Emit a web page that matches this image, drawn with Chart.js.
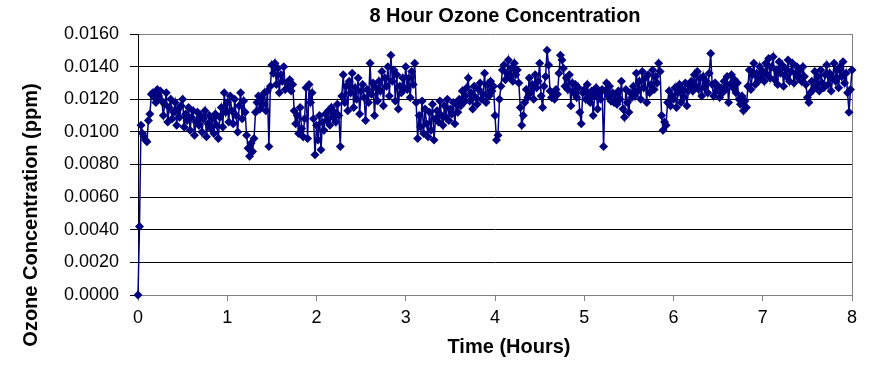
<!DOCTYPE html>
<html>
<head>
<meta charset="utf-8">
<script src="https://cdn.jsdelivr.net/npm/chart.js@4/dist/chart.umd.min.js"></script>
<style>
html,body{margin:0;padding:0;background:#fff;}
#wrap{position:relative;width:876px;height:367px;}
</style>
</head>
<body>
<div id="wrap"><canvas id="c" width="876" height="367"></canvas></div>
<script>
// ---- data ----
const chartTitle = "8 Hour Ozone Concentration";
const xAxisTitle = "Time (Hours)";
const yAxisTitle = "Ozone Concentration (ppm)";
const xTickValues = [0, 1, 2, 3, 4, 5, 6, 7, 8];
const yTickValues = [0.0000, 0.0020, 0.0040, 0.0060, 0.0080, 0.0100, 0.0120, 0.0140, 0.0160];
const sampleIntervalHours = 1 / 60; // one reading per minute

const ozoneHour0 = [
  0.0000, 0.0042, 0.0104, 0.0099, 0.0097, 0.0095, 0.0094, 0.0107, 0.0111,
  0.0123, 0.0124, 0.0121, 0.0118, 0.0126, 0.0122, 0.0125, 0.0119,
  0.0110, 0.0117, 0.0124, 0.0106, 0.0115, 0.0120, 0.0108, 0.0112, 0.0118, 0.0104, 0.0114, 0.0109, 0.0116, 0.0120,
  0.0103, 0.0111, 0.0107, 0.0115, 0.0101, 0.0109, 0.0113, 0.0098, 0.0106, 0.0112, 0.0104, 0.0110, 0.0100, 0.0108, 0.0113,
  0.0097, 0.0105, 0.0110, 0.0102, 0.0108, 0.0099, 0.0111, 0.0104, 0.0096, 0.0109, 0.0115, 0.0103, 0.0124, 0.0112];
const ozoneHour1 = [
  0.0118, 0.0106, 0.0122, 0.0113, 0.0105, 0.0120, 0.0110, 0.0100, 0.0116, 0.0124, 0.0108, 0.0119,
  0.0112, 0.0098, 0.0090, 0.0085, 0.0093, 0.0088, 0.0096, 0.0112,
  0.0118, 0.0122, 0.0114, 0.0121, 0.0117, 0.0124, 0.0113, 0.0125, 0.0091,
  0.0128, 0.0141, 0.0136, 0.0142, 0.0129, 0.0139, 0.0124, 0.0135, 0.0131, 0.0140,
  0.0126, 0.0130, 0.0127, 0.0132, 0.0125, 0.0129,
  0.0113, 0.0105, 0.0110, 0.0099, 0.0115, 0.0102, 0.0097, 0.0108,
  0.0127, 0.0096, 0.0129, 0.0118, 0.0124, 0.0108, 0.0086];
const ozoneHour2 = [
  0.0104, 0.0095, 0.0110, 0.0089, 0.0106, 0.0101, 0.0111,
  0.0107, 0.0113, 0.0104, 0.0115, 0.0109, 0.0112, 0.0106, 0.0117, 0.0110,
  0.0091,
  0.0122, 0.0135, 0.0118, 0.0128, 0.0113, 0.0131, 0.0124, 0.0136, 0.0115, 0.0127, 0.0120, 0.0133, 0.0111, 0.0125,
  0.0129, 0.0121, 0.0107, 0.0126, 0.0118, 0.0142, 0.0123, 0.0130, 0.0110, 0.0127, 0.0119, 0.0131,
  0.0125, 0.0137, 0.0116, 0.0133, 0.0128, 0.0140, 0.0122, 0.0147, 0.0131, 0.0138, 0.0119, 0.0135,
  0.0114, 0.0128, 0.0124, 0.0133, 0.0127];
const ozoneHour3 = [
  0.0140, 0.0126, 0.0133, 0.0121, 0.0137, 0.0129, 0.0142,
  0.0118, 0.0096, 0.0110, 0.0103, 0.0119, 0.0099, 0.0114, 0.0105, 0.0097, 0.0112, 0.0101, 0.0117, 0.0095, 0.0108,
  0.0113, 0.0106, 0.0119, 0.0110, 0.0104, 0.0116, 0.0109, 0.0120, 0.0107, 0.0114, 0.0111, 0.0118, 0.0105, 0.0117, 0.0112,
  0.0120, 0.0116, 0.0125, 0.0118, 0.0122, 0.0127, 0.0133, 0.0119, 0.0124, 0.0114, 0.0128, 0.0121, 0.0117, 0.0126, 0.0130,
  0.0120, 0.0123, 0.0136, 0.0118, 0.0129,
  0.0122, 0.0131, 0.0125, 0.0128];
const ozoneHour4 = [
  0.0110, 0.0095, 0.0098, 0.0120, 0.0128,
  0.0138, 0.0141, 0.0132, 0.0136, 0.0144, 0.0134, 0.0139, 0.0131, 0.0142, 0.0135, 0.0138, 0.0130,
  0.0115, 0.0104, 0.0110, 0.0118,
  0.0126, 0.0121, 0.0133, 0.0124, 0.0129, 0.0120, 0.0135, 0.0127, 0.0131, 0.0142, 0.0122, 0.0115,
  0.0128, 0.0134, 0.0150, 0.0141, 0.0125,
  0.0121, 0.0124, 0.0120, 0.0126, 0.0123,
  0.0136, 0.0147, 0.0144, 0.0139,
  0.0128, 0.0133, 0.0126, 0.0135, 0.0116, 0.0130, 0.0124, 0.0129,
  0.0121, 0.0127, 0.0112, 0.0105, 0.0124];
const ozoneHour5 = [
  0.0126, 0.0120, 0.0129, 0.0123,
  0.0118, 0.0125, 0.0110, 0.0122, 0.0127, 0.0114, 0.0124, 0.0120, 0.0126,
  0.0091,
  0.0125, 0.0130, 0.0122, 0.0128, 0.0119,
  0.0124, 0.0118, 0.0123, 0.0117, 0.0125, 0.0120,
  0.0131, 0.0114, 0.0109, 0.0126, 0.0118, 0.0112, 0.0124, 0.0121,
  0.0128, 0.0122, 0.0136, 0.0125, 0.0131, 0.0120, 0.0137, 0.0127, 0.0133, 0.0118, 0.0135, 0.0124, 0.0129, 0.0138, 0.0126, 0.0134, 0.0130,
  0.0142, 0.0137,
  0.0110, 0.0101, 0.0106, 0.0104,
  0.0118, 0.0125, 0.0116, 0.0122];
const ozoneHour6 = [
  0.0120, 0.0127, 0.0115, 0.0124, 0.0129, 0.0118, 0.0126, 0.0121, 0.0130, 0.0116, 0.0125, 0.0128,
  0.0131, 0.0125, 0.0135, 0.0128, 0.0137, 0.0126, 0.0133, 0.0122, 0.0134, 0.0127, 0.0131, 0.0124,
  0.0136, 0.0148, 0.0129,
  0.0122, 0.0130, 0.0125, 0.0128, 0.0121, 0.0127, 0.0124,
  0.0131, 0.0126, 0.0134, 0.0118, 0.0129, 0.0135, 0.0127, 0.0132, 0.0124, 0.0130, 0.0120,
  0.0117, 0.0122, 0.0113, 0.0119, 0.0115,
  0.0128, 0.0138, 0.0126, 0.0135, 0.0142, 0.0129, 0.0136, 0.0131, 0.0140, 0.0133];
const ozoneHour7 = [
  0.0137, 0.0131, 0.0142, 0.0135, 0.0145, 0.0133, 0.0140, 0.0146, 0.0132, 0.0138, 0.0129, 0.0143, 0.0136,
  0.0141, 0.0128, 0.0139, 0.0134, 0.0144, 0.0131, 0.0137, 0.0142, 0.0130, 0.0136, 0.0140, 0.0133,
  0.0138, 0.0131, 0.0140, 0.0134, 0.0129,
  0.0121, 0.0118, 0.0124,
  0.0131, 0.0126, 0.0137, 0.0128, 0.0134, 0.0125, 0.0138, 0.0130,
  0.0127, 0.0135, 0.0141, 0.0129, 0.0136, 0.0125, 0.0133, 0.0142, 0.0131, 0.0138, 0.0127, 0.0140, 0.0134, 0.0143, 0.0130,
  0.0136, 0.0124, 0.0112, 0.0126, 0.0138];

const ozone = [].concat(ozoneHour0, ozoneHour1, ozoneHour2, ozoneHour3,
                        ozoneHour4, ozoneHour5, ozoneHour6, ozoneHour7);
const points = ozone.map((v, i) => ({ x: i * sampleIntervalHours, y: v }));

// ---- styling ----
const FONT = "'Liberation Sans', Arial, sans-serif";
const NAVY = '#000080';

const titlesPlugin = {
  id: 'titles',
  afterDraw(chart) {
    const ctx = chart.ctx;
    ctx.save();
    ctx.fillStyle = '#000';
    ctx.textAlign = 'center';
    ctx.textBaseline = 'middle';
    ctx.font = 'bold 20px ' + FONT;
    ctx.fillText(chartTitle, 505, 16);
    ctx.fillText(xAxisTitle, 509, 347);
    ctx.translate(31, 215);
    ctx.rotate(-Math.PI / 2);
    ctx.fillText(yAxisTitle, 0, 0);
    ctx.restore();
  }
};

const borderPlugin = {
  id: 'rightBorder',
  beforeDatasetsDraw(chart) {
    const a = chart.chartArea, ctx = chart.ctx;
    ctx.save();
    ctx.strokeStyle = '#808080';
    ctx.lineWidth = 1;
    ctx.beginPath();
    ctx.moveTo(Math.round(a.right) + 0.5, a.top);
    ctx.lineTo(Math.round(a.right) + 0.5, a.bottom);
    ctx.stroke();
    ctx.restore();
  }
};

new Chart(document.getElementById('c'), {
  type: 'scatter',
  data: {
    datasets: [{
      data: points,
      showLine: true,
      clip: 8,
      borderColor: NAVY,
      borderWidth: 1.5,
      backgroundColor: NAVY,
      pointStyle: 'rectRot',
      pointRadius: 4.5,
      pointBorderWidth: 0,
      pointBorderColor: NAVY,
      pointBackgroundColor: NAVY
    }]
  },
  options: {
    responsive: false,
    animation: false,
    layout: { padding: { top: 34, right: 24, left: 0, bottom: 0 } },
    plugins: { legend: { display: false }, tooltip: { enabled: false }, title: { display: false } },
    scales: {
      x: {
        type: 'linear',
        min: 0, max: 8,
        afterBuildTicks: s => { s.ticks = xTickValues.map(v => ({ value: v })); },
        afterFit: s => { s.height = 72; },
        grid: { drawOnChartArea: false, drawTicks: true, tickLength: 6, color: '#808080' },
        border: { color: '#808080', width: 1 },
        ticks: { color: '#000', font: { family: FONT, size: 18 }, padding: 6, maxRotation: 0,
                 callback: v => String(v) }
      },
      y: {
        min: 0, max: 0.016,
        afterBuildTicks: s => { s.ticks = yTickValues.map(v => ({ value: v })); },
        afterFit: s => { s.width = 138; },
        grid: {
          drawTicks: true, tickLength: 8,
          color: c => (c.tick && (Math.abs(c.tick.value - 0.016) < 1e-9)) ? '#808080' : '#000',
          tickColor: '#000'
        },
        border: { color: '#000', width: 1 },
        ticks: { color: '#000', font: { family: FONT, size: 18 }, padding: 11,
                 callback: v => Number(v).toFixed(4) }
      }
    }
  },
  plugins: [titlesPlugin, borderPlugin]
});
</script>
</body>
</html>
